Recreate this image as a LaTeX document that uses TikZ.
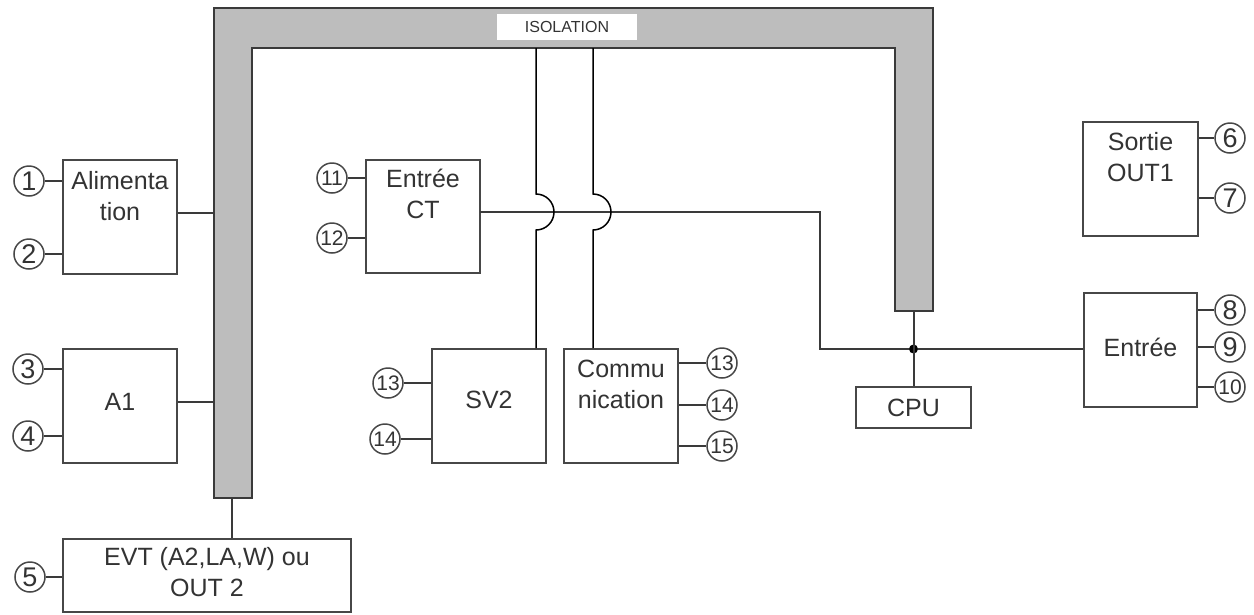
\documentclass[tikz,border=0pt]{standalone}
\usepackage{fontspec}
\setmainfont{Liberation Sans}
\definecolor{boxc}{HTML}{474747}
\definecolor{txtc}{HTML}{333333}
\definecolor{busfill}{HTML}{BDBDBD}
\definecolor{linec}{HTML}{3A3A3A}
\begin{document}
\begin{tikzpicture}[x=1pt,y=-1pt,
  box/.style={draw=boxc, line width=2pt, fill=white, inner sep=0pt, minimum width=114pt, minimum height=114pt},
  txt/.style={text=txtc, font=\fontsize{25}{31}\selectfont, align=center, inner sep=0pt},
  pin/.style={draw=boxc, line width=1.5pt, circle, minimum size=30pt, inner sep=0pt, text=txtc, font=\fontsize{27}{27}\selectfont},
  pinw/.style={pin, font=\fontsize{21}{21}\selectfont},
  wire/.style={draw=linec, line width=2pt},
  iwire/.style={draw=black, line width=1.5pt}
]
\useasboundingbox (0,0) rectangle (1254,614);
\fill[white] (0,0) rectangle (1254,614);

% isolation bus
\draw[draw=linec, line width=2pt, fill=busfill, line join=miter]
  (214,498) -- (214,8) -- (933,8) -- (933,311) -- (895,311) -- (895,48) -- (252,48) -- (252,498) -- cycle;
\node[fill=white, minimum width=140pt, minimum height=26pt, inner sep=0pt, text=txtc, font=\fontsize{16}{16}\selectfont] (iso) at (567,27) {ISOLATION};

% boxes
\node[box] (alim) at (120,217) {};
\node[txt] at (120,196) {Alimenta\\tion};
\node[box] (a1) at (120,406) {};
\node[txt] at (120,402) {A1};
\node[box, minimum width=288pt, minimum height=73pt] (evt) at (207,575.5) {};
\node[txt] at (207,572) {EVT (A2,LA,W) ou\\OUT 2};
\node[box, minimum height=113pt] (ect) at (423,216.5) {};
\node[txt] at (423,194) {Entrée\\CT};
\node[box] (sv2) at (489,406) {};
\node[txt] at (489,400) {SV2};
\node[box] (comm) at (621,406) {};
\node[txt] at (621,384) {Commu\\nication};
\node[box, minimum width=115pt, minimum height=41pt] (cpu) at (913.5,407.5) {};
\node[txt] at (913.5,408) {CPU};
\node[box, minimum width=113pt] (entree) at (1140.5,350) {};
\node[txt] at (1140.5,347) {Entrée};
\node[box, minimum width=115pt] (sortie) at (1140.5,179) {};
\node[txt] at (1140.5,157) {Sortie\\OUT1};

% pins
\node[pin] (p1) at (29,181) {1};
\node[pin] (p2) at (29,254) {2};
\node[pin] (p3) at (28,369) {3};
\node[pin] (p4) at (28,436) {4};
\node[pin] (p5) at (30,577) {5};
\node[pinw] (p11) at (332,178) {11};
\node[pinw] (p12) at (332,238) {12};
\node[pinw] (p13a) at (388,383) {13};
\node[pinw] (p14a) at (385,439) {14};
\node[pinw] (p13b) at (722,363) {13};
\node[pinw] (p14b) at (722,405) {14};
\node[pinw] (p15) at (722,446) {15};
\node[pin] (p6) at (1230,138) {6};
\node[pin] (p7) at (1230,198) {7};
\node[pin] (p8) at (1230,310) {8};
\node[pin] (p9) at (1230,347) {9};
\node[pinw] (p10) at (1230,387) {10};

\foreach \p/\b in {p1/alim,p2/alim,p3/a1,p4/a1,p5/evt,p11/ect,p12/ect,p13a/sv2,p14a/sv2}
  \draw[wire] (\p) -- (\p -| \b.west);
\foreach \p/\b in {p13b/comm,p14b/comm,p15/comm,p6/sortie,p7/sortie,p8/entree,p9/entree,p10/entree}
  \draw[wire] (\p) -- (\p -| \b.east);

% connections to the bus
\coordinate (bA) at (214,213);
\coordinate (bB) at (214,402);
\coordinate (busB) at (232,498);
\coordinate (busR) at (913.5,311);
\draw[wire] (alim.east |- bA) -- (bA);
\draw[wire] (a1.east |- bB) -- (bB);
\draw[wire] (busB) -- (busB |- evt.north);

% CT line to CPU junction and Entrée
\coordinate (ctout) at (480,212);
\coordinate (bend) at (820,349);
\node[circle, fill=black, inner sep=0pt, minimum size=9pt] (jn) at (913.5,349) {};
\draw[wire] (ctout) -| (bend) -- (jn) -- (entree.west |- jn);
\draw[wire] (busR) -- (cpu.north);

% isolation lines with jumps
\coordinate (isoA) at (536,48);
\coordinate (isoB) at (593,48);
\draw[iwire] (isoA) -- (536,194) arc[start angle=90, end angle=-90, radius=18pt] -- (isoA |- sv2.north);
\draw[iwire] (isoB) -- (593,194) arc[start angle=90, end angle=-90, radius=18pt] -- (isoB |- comm.north);
\end{tikzpicture}
\end{document}
